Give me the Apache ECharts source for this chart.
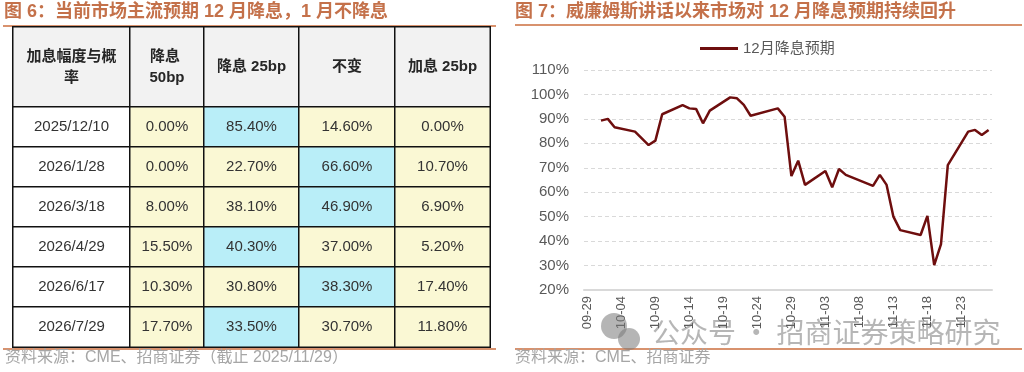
<!DOCTYPE html>
<html><head><meta charset="utf-8">
<script src="https://cdn.jsdelivr.net/npm/echarts@6/dist/echarts.min.js"></script>
<style>html,body{margin:0;padding:0;background:#fff}#c{width:1024px;height:372px}</style>
</head><body><div id="c"></div>
<script>
// ---- Table data (Figure 6) ----
const tableHeaders = ['加息幅度与概率', '降息 50bp', '降息 25bp', '不变', '加息 25bp'];
const meetingDates = ['2025/12/10', '2026/1/28', '2026/3/18', '2026/4/29', '2026/6/17', '2026/7/29'];
const cut50 = [0.00, 0.00, 8.00, 15.50, 10.30, 17.70];
const cut25 = [85.40, 22.70, 38.10, 40.30, 30.80, 33.50];
const hold = [14.60, 66.60, 46.90, 37.00, 38.30, 30.70];
const hike25 = [0.00, 10.70, 6.90, 5.20, 17.40, 11.80];

// ---- Line data (Figure 7) ----
const lineDates = ['09-29','09-30','10-01','10-02','10-03','10-04','10-05','10-06','10-07','10-08',
  '10-09','10-10','10-11','10-12','10-13','10-14','10-15','10-16','10-17','10-18',
  '10-19','10-20','10-21','10-22','10-23','10-24','10-25','10-26','10-27','10-28',
  '10-29','10-30','10-31','11-01','11-02','11-03','11-04','11-05','11-06','11-07',
  '11-08','11-09','11-10','11-11','11-12','11-13','11-14','11-15','11-16','11-17',
  '11-18','11-19','11-20','11-21','11-22','11-23','11-24','11-25','11-26','11-27'];
const decCutProb = [null,null,89.3,90.0,86.6,null,null,84.8,null,79.3,
  81.1,91.9,null,null,95.6,94.3,94.0,88.2,93.4,null,
  null,98.8,98.4,95.7,91.3,null,null,null,94.3,90.9,
  66.6,72.9,63.0,null,null,68.7,62.0,69.5,67.1,null,
  null,null,62.6,67.1,63.0,50.0,44.5,null,null,42.5,
  50.3,30.2,38.8,71.1,null,null,84.8,85.5,83.4,85.5];
const seriesName = '12月降息预期';

// ---- Layout / style ----
const FONT = "'Liberation Sans','Noto Sans CJK SC',sans-serif";
const titleColor = '#C4714A';
const ruleColor = '#D8926E';
const lineColor = '#6E0E0E';
const colEdges = [13, 130, 204, 299, 395, 490];
const headerTop = 27, headerH = 80, bodyTop = 107, bodyH = 240;
const cellBorder = '#111';

const bodyCols = [meetingDates, cut50, cut25, hold, hike25];
const grids = [], xAxes = [], yAxes = [], series = [];

function rowMaxCol(r) {
  const vals = [cut50[r], cut25[r], hold[r], hike25[r]];
  return 1 + vals.indexOf(Math.max(...vals));
}

for (let c = 0; c < 5; c++) {
  const w = colEdges[c + 1] - colEdges[c];
  // header grid
  let gi = grids.length;
  grids.push({ left: colEdges[c], top: headerTop, width: w, height: headerH });
  xAxes.push({ gridIndex: gi, type: 'category', data: [tableHeaders[c]], show: false });
  yAxes.push({ gridIndex: gi, type: 'category', data: ['h'], show: false });
  series.push({
    type: 'heatmap', xAxisIndex: gi, yAxisIndex: gi, silent: true,
    data: [{ value: [0, 0, 1], itemStyle: { color: '#F2F2F2', borderColor: cellBorder, borderWidth: 1.5 } }],
    label: {
      show: true, formatter: () => tableHeaders[c], width: w - 20, overflow: 'break',
      fontFamily: FONT, fontSize: 15, fontWeight: 'bold', color: '#262626', lineHeight: 21, align: 'center'
    }
  });
  // body grid
  gi = grids.length;
  grids.push({ left: colEdges[c], top: bodyTop, width: w, height: bodyH });
  xAxes.push({ gridIndex: gi, type: 'category', data: [tableHeaders[c]], show: false });
  yAxes.push({ gridIndex: gi, type: 'category', data: meetingDates, inverse: true, show: false });
  const data = bodyCols[c].map((v, r) => {
    let color = '#FFFFFF';
    if (c > 0) color = (rowMaxCol(r) === c) ? '#B9EEF8' : '#FAF8D4';
    const txt = c === 0 ? v : v.toFixed(2) + '%';
    return { value: [0, r, 1], name: txt, itemStyle: { color, borderColor: cellBorder, borderWidth: 1.5 } };
  });
  series.push({
    type: 'heatmap', xAxisIndex: gi, yAxisIndex: gi, silent: true, data,
    label: { show: true, formatter: p => p.name, fontFamily: FONT, fontSize: 15, color: '#333' }
  });
}

// line chart grid
const lg = grids.length;
grids.push({ left: 584, right: 32, top: 70, bottom: 82 });
xAxes.push({
  gridIndex: lg, type: 'category', data: lineDates, boundaryGap: true,
  axisTick: { show: false },
  axisLine: { lineStyle: { color: '#D9D9D9', width: 2 } },
  axisLabel: { interval: 4, rotate: 90, color: '#595959', fontSize: 13, fontFamily: FONT, margin: 6 }
});
yAxes.push({
  gridIndex: lg, type: 'value', min: 20, max: 110, interval: 10,
  axisLine: { show: false }, axisTick: { show: false },
  axisLabel: { formatter: '{value}%', color: '#595959', fontSize: 15, fontFamily: FONT, margin: 15 },
  splitLine: { lineStyle: { color: '#D9D9D9', type: [4, 3] } }
});
series.push({
  name: seriesName, type: 'line', xAxisIndex: lg, yAxisIndex: lg, data: decCutProb,
  connectNulls: true, symbol: 'none', lineStyle: { color: lineColor, width: 2.5 }, itemStyle: { color: lineColor }
});

const option = {
  animation: false,
  backgroundColor: '#fff',
  grid: grids, xAxis: xAxes, yAxis: yAxes, series,
  legend: {
    data: [{ name: seriesName, icon: 'rect' }], left: 695, top: 36, itemWidth: 38, itemHeight: 3, itemGap: 4,
    itemStyle: { color: lineColor },
    textStyle: { color: '#595959', fontSize: 15, fontFamily: FONT }
  },
  graphic: [
    { type: 'text', left: 4, top: 3, style: { text: '图 6：当前市场主流预期 12 月降息，1 月不降息', fill: titleColor, font: "bold 18px " + FONT } },
    { type: 'line', shape: { x1: 3, y1: 26, x2: 496, y2: 26 }, style: { stroke: ruleColor, lineWidth: 2 } },
    { type: 'line', shape: { x1: 3, y1: 349, x2: 496, y2: 349 }, style: { stroke: ruleColor, lineWidth: 2 } },
    { type: 'text', left: 5, top: 350, style: { text: '资料来源：CME、招商证券（截止 2025/11/29）', fill: '#A6A6A6', font: "16px " + FONT } },
    { type: 'text', left: 515, top: 3, style: { text: '图 7：威廉姆斯讲话以来市场对 12 月降息预期持续回升', fill: titleColor, font: "bold 18px " + FONT } },
    { type: 'line', shape: { x1: 515, y1: 25, x2: 1022, y2: 25 }, style: { stroke: ruleColor, lineWidth: 2 } },
    { type: 'line', shape: { x1: 515, y1: 349, x2: 1022, y2: 349 }, style: { stroke: ruleColor, lineWidth: 2 } },
    { type: 'text', left: 515, top: 350, style: { text: '资料来源：CME、招商证券', fill: '#A6A6A6', font: "16px " + FONT } },
    // watermark
    { type: 'circle', shape: { cx: 614, cy: 326, r: 13 }, style: { fill: 'rgba(120,120,120,0.55)' }, z: 100 },
    { type: 'circle', shape: { cx: 629, cy: 339, r: 11 }, style: { fill: 'rgba(120,120,120,0.55)' }, z: 100 },
    { type: 'text', left: 652, top: 318, z: 100, style: { text: '公众号 · 招商证券策略研究', fill: 'rgba(110,110,110,0.5)', font: "28px 'Noto Sans CJK SC',sans-serif" } }
  ]
};
const chart = echarts.init(document.getElementById('c'), null, { renderer: 'canvas' });
chart.setOption(option);
</script></body></html>
